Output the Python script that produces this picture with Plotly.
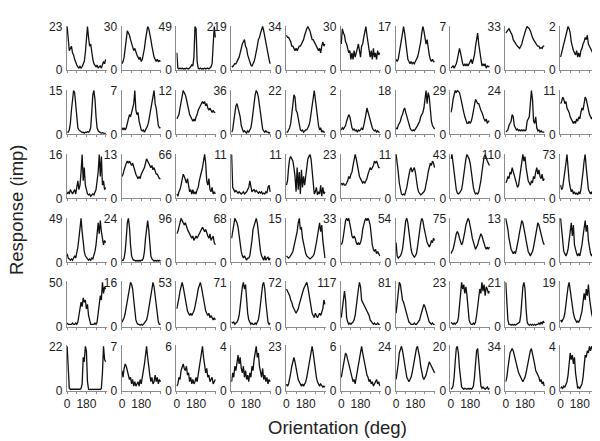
import plotly.graph_objects as go

# peak response (imp/s) shown as the top tick of every panel, row by row
peak_rows = [
    [23, 30, 49, 219, 34, 30, 17, 7, 33, 2],
    [15, 7, 12, 36, 22, 2, 18, 29, 24, 11],
    [16, 13, 66, 11, 11, 23, 11, 43, 110, 73],
    [49, 24, 96, 68, 15, 33, 54, 75, 13, 55],
    [50, 16, 53, 71, 72, 117, 81, 23, 21, 19],
    [22, 7, 6, 4, 23, 6, 24, 20, 34, 4],
]

# tuning curves, % of the panel's peak, sampled every 10 deg from 0 to 360
row1 = [
    [100, 70, 45, 50, 55, 40, 35, 25, 15, 12, 8, 5, 10, 5, 8, 15, 20, 40, 80, 100, 75, 55, 60, 40, 25, 15, 10, 8, 12, 5, 8, 10, 5, 12, 20, 15, 25],
    [15, 20, 30, 50, 75, 90, 85, 80, 70, 60, 55, 45, 50, 40, 35, 30, 25, 30, 20, 25, 35, 50, 70, 85, 100, 95, 85, 70, 55, 40, 30, 25, 20, 25, 20, 22, 20],
    [40, 5, 3, 5, 3, 5, 3, 4, 3, 5, 4, 3, 5, 8, 12, 10, 30, 100, 95, 20, 5, 3, 5, 3, 4, 3, 5, 3, 4, 5, 3, 5, 8, 15, 60, 100, 75],
    [10, 8, 12, 15, 15, 20, 25, 30, 40, 55, 60, 65, 70, 55, 50, 35, 25, 15, 12, 10, 15, 20, 30, 40, 55, 70, 75, 85, 95, 100, 90, 75, 65, 55, 40, 25, 15],
    [80, 75, 75, 70, 65, 55, 55, 50, 45, 50, 45, 50, 55, 55, 60, 65, 70, 80, 90, 95, 100, 95, 90, 80, 70, 70, 65, 60, 55, 50, 45, 50, 40, 55, 65, 55, 60],
    [60, 95, 85, 80, 65, 60, 50, 40, 45, 25, 40, 25, 45, 30, 40, 55, 60, 45, 30, 55, 60, 75, 90, 100, 80, 60, 45, 30, 45, 25, 50, 30, 40, 25, 45, 35, 40],
    [25, 20, 25, 40, 60, 80, 95, 100, 85, 60, 40, 25, 20, 15, 20, 15, 18, 15, 20, 25, 30, 40, 50, 65, 85, 100, 90, 70, 60, 70, 50, 35, 25, 20, 25, 20, 20],
    [5, 8, 10, 5, 10, 15, 25, 40, 50, 40, 25, 15, 10, 15, 10, 15, 10, 15, 20, 25, 15, 25, 35, 55, 70, 85, 60, 40, 20, 10, 15, 10, 15, 5, 10, 8, 10],
    [85, 88, 90, 95, 90, 85, 80, 70, 65, 60, 58, 55, 52, 50, 55, 60, 70, 80, 90, 95, 100, 98, 95, 90, 80, 75, 70, 65, 60, 58, 55, 55, 50, 52, 50, 55, 55],
    [30, 40, 50, 60, 70, 80, 90, 100, 95, 85, 65, 50, 45, 40, 35, 45, 30, 40, 30, 45, 50, 60, 65, 75, 70, 80, 60, 55, 50, 45, 40, 35, 40, 30, 35, 30, 25],
]
row2 = [
    [5, 5, 10, 25, 55, 85, 100, 95, 70, 35, 15, 10, 8, 5, 4, 5, 3, 5, 4, 6, 5, 8, 15, 50, 90, 100, 80, 40, 15, 8, 5, 4, 3, 4, 3, 2, 2],
    [15, 10, 15, 10, 15, 25, 35, 45, 40, 50, 60, 70, 100, 55, 45, 50, 30, 15, 10, 8, 10, 5, 10, 15, 20, 30, 45, 60, 65, 85, 100, 70, 60, 40, 20, 15, 15],
    [35, 40, 45, 60, 75, 90, 100, 95, 90, 80, 65, 55, 45, 40, 35, 30, 35, 30, 40, 45, 55, 60, 65, 70, 75, 70, 75, 65, 70, 60, 55, 60, 55, 50, 55, 50, 50],
    [5, 10, 30, 50, 65, 70, 60, 55, 40, 20, 10, 5, 8, 5, 3, 8, 5, 10, 15, 30, 55, 75, 90, 100, 95, 85, 65, 45, 25, 12, 8, 5, 8, 5, 5, 3, 5],
    [5, 5, 10, 15, 25, 45, 70, 90, 85, 55, 50, 35, 20, 10, 8, 10, 5, 8, 10, 10, 15, 20, 30, 45, 65, 85, 100, 80, 55, 35, 20, 10, 15, 5, 8, 5, 5],
    [10, 15, 12, 15, 20, 30, 40, 45, 40, 25, 15, 10, 12, 8, 10, 5, 10, 8, 10, 15, 10, 20, 30, 45, 60, 50, 45, 35, 25, 15, 10, 8, 10, 5, 8, 5, 5],
    [15, 12, 20, 25, 30, 40, 45, 55, 60, 50, 40, 30, 20, 15, 10, 8, 10, 8, 12, 15, 20, 25, 30, 40, 45, 50, 60, 80, 100, 70, 95, 85, 50, 30, 20, 15, 12],
    [50, 60, 80, 95, 100, 95, 100, 98, 95, 85, 70, 60, 50, 40, 30, 25, 25, 30, 25, 30, 40, 55, 75, 80, 75, 70, 70, 60, 55, 50, 40, 35, 30, 35, 25, 30, 30],
    [5, 8, 10, 20, 25, 30, 45, 40, 20, 15, 10, 12, 8, 10, 8, 10, 8, 10, 8, 10, 30, 35, 40, 70, 100, 80, 30, 25, 40, 15, 8, 10, 5, 8, 5, 5, 5],
    [70, 75, 85, 80, 70, 75, 60, 55, 50, 40, 35, 30, 25, 30, 25, 35, 30, 40, 35, 50, 60, 55, 75, 85, 80, 65, 55, 45, 40, 35, 40, 30, 35, 40, 35, 45, 60],
]
row3 = [
    [10, 15, 10, 20, 15, 10, 15, 20, 10, 25, 40, 20, 30, 60, 100, 40, 70, 30, 15, 10, 8, 10, 5, 8, 10, 8, 15, 20, 40, 60, 100, 50, 95, 30, 40, 20, 25],
    [50, 55, 65, 75, 80, 85, 80, 85, 80, 75, 80, 70, 65, 55, 50, 45, 50, 45, 55, 60, 65, 70, 80, 90, 85, 80, 75, 70, 75, 65, 70, 60, 55, 55, 50, 45, 45],
    [10, 5, 15, 20, 30, 45, 55, 50, 40, 35, 45, 25, 15, 20, 10, 20, 10, 15, 10, 20, 25, 40, 55, 60, 70, 85, 100, 80, 40, 30, 45, 20, 15, 25, 10, 15, 10],
    [100, 25, 20, 15, 18, 15, 12, 15, 12, 10, 12, 15, 10, 12, 15, 20, 25, 40, 30, 15, 18, 20, 15, 18, 15, 12, 15, 12, 15, 10, 12, 10, 15, 12, 25, 30, 15],
    [30, 40, 70, 90, 95, 90, 85, 70, 50, 15, 70, 20, 60, 10, 65, 25, 50, 30, 55, 70, 90, 95, 100, 90, 60, 30, 10, 15, 25, 8, 15, 10, 30, 5, 25, 10, 15],
    [35, 30, 35, 30, 30, 35, 40, 50, 45, 55, 60, 75, 90, 100, 90, 75, 60, 50, 45, 40, 35, 38, 35, 40, 45, 55, 65, 70, 65, 70, 75, 85, 80, 85, 75, 70, 70],
    [100, 85, 60, 35, 20, 10, 8, 10, 8, 15, 25, 40, 55, 65, 70, 60, 65, 70, 60, 40, 25, 15, 10, 8, 10, 12, 15, 20, 30, 45, 60, 70, 80, 75, 85, 80, 70],
    [90, 100, 80, 55, 35, 20, 12, 10, 12, 15, 20, 35, 55, 75, 90, 100, 95, 90, 80, 60, 40, 25, 15, 10, 12, 10, 15, 25, 40, 60, 80, 95, 100, 90, 85, 80, 75],
    [35, 40, 50, 45, 60, 55, 70, 60, 50, 40, 30, 25, 30, 45, 60, 80, 100, 85, 95, 70, 50, 40, 35, 30, 40, 35, 50, 45, 60, 70, 55, 65, 50, 45, 55, 40, 45],
    [30, 20, 25, 40, 55, 80, 100, 60, 40, 25, 15, 20, 10, 15, 10, 12, 8, 15, 10, 20, 35, 60, 85, 100, 70, 40, 20, 15, 10, 15, 8, 12, 10, 15, 10, 8, 10],
]
row4 = [
    [20, 10, 8, 5, 8, 5, 10, 15, 10, 20, 35, 55, 80, 100, 70, 45, 25, 15, 10, 8, 5, 8, 5, 10, 8, 15, 25, 40, 60, 90, 65, 95, 70, 55, 40, 50, 45],
    [5, 5, 10, 25, 55, 90, 100, 80, 40, 15, 8, 5, 5, 3, 5, 3, 5, 3, 5, 5, 10, 25, 55, 85, 95, 75, 40, 15, 8, 5, 3, 5, 3, 5, 3, 5, 3],
    [65, 70, 80, 90, 100, 95, 90, 85, 90, 80, 75, 70, 65, 60, 55, 60, 50, 55, 60, 55, 60, 65, 70, 75, 80, 75, 70, 75, 65, 60, 55, 65, 50, 55, 60, 45, 40],
    [55, 70, 90, 100, 95, 90, 80, 60, 40, 25, 15, 10, 15, 10, 5, 10, 10, 15, 30, 50, 75, 85, 95, 100, 90, 65, 40, 25, 15, 10, 5, 15, 5, 10, 12, 5, 10],
    [15, 12, 10, 12, 15, 20, 25, 35, 45, 55, 70, 90, 100, 75, 80, 55, 40, 30, 20, 15, 12, 10, 8, 10, 12, 15, 20, 30, 45, 60, 75, 90, 70, 85, 50, 25, 10],
    [40, 45, 60, 80, 95, 100, 95, 100, 90, 75, 60, 55, 60, 55, 45, 40, 45, 40, 45, 55, 75, 90, 95, 100, 95, 100, 95, 85, 60, 40, 30, 25, 30, 20, 25, 20, 15],
    [45, 15, 10, 12, 15, 20, 30, 50, 75, 95, 100, 90, 70, 45, 30, 20, 15, 12, 15, 20, 35, 55, 75, 90, 100, 95, 80, 65, 50, 45, 40, 35, 40, 50, 45, 55, 50],
    [20, 25, 30, 40, 55, 65, 70, 65, 55, 45, 40, 45, 55, 70, 85, 95, 100, 95, 85, 70, 55, 45, 35, 30, 35, 40, 50, 60, 65, 60, 50, 40, 35, 30, 35, 30, 35],
    [100, 90, 75, 55, 40, 30, 25, 20, 25, 20, 30, 40, 55, 70, 85, 95, 90, 80, 65, 50, 35, 25, 20, 15, 20, 25, 35, 50, 65, 80, 90, 85, 75, 60, 50, 45, 40],
    [100, 70, 45, 25, 20, 15, 20, 30, 50, 75, 90, 60, 85, 40, 25, 20, 15, 20, 15, 25, 40, 60, 80, 95, 70, 85, 50, 30, 20, 15, 20, 15, 25, 20, 30, 25, 20],
]
row5 = [
    [8, 5, 5, 5, 5, 8, 5, 5, 8, 5, 10, 25, 40, 55, 45, 65, 55, 60, 40, 50, 25, 10, 5, 5, 5, 5, 8, 5, 10, 30, 55, 70, 60, 100, 75, 90, 85],
    [10, 15, 20, 30, 45, 65, 80, 90, 100, 95, 85, 60, 35, 15, 8, 5, 5, 3, 5, 3, 5, 8, 10, 15, 25, 40, 60, 80, 95, 100, 90, 70, 45, 25, 10, 5, 5],
    [40, 50, 65, 80, 95, 100, 90, 75, 60, 45, 35, 30, 25, 30, 25, 30, 35, 45, 55, 70, 85, 95, 100, 90, 75, 60, 45, 35, 30, 25, 30, 20, 25, 20, 15, 20, 15],
    [10, 8, 10, 5, 8, 10, 15, 25, 45, 70, 90, 100, 85, 95, 60, 30, 15, 8, 5, 8, 5, 5, 8, 5, 10, 15, 30, 55, 80, 95, 100, 85, 55, 25, 10, 5, 8],
    [85, 80, 75, 70, 60, 55, 45, 40, 35, 30, 35, 40, 50, 60, 70, 80, 85, 90, 95, 100, 90, 75, 55, 40, 30, 25, 20, 30, 25, 20, 25, 30, 25, 35, 40, 60, 50],
    [20, 40, 70, 80, 60, 20, 10, 5, 8, 5, 8, 10, 15, 25, 45, 70, 85, 100, 90, 60, 55, 50, 45, 40, 35, 30, 25, 15, 10, 8, 5, 8, 5, 5, 8, 5, 5],
    [30, 55, 85, 100, 95, 75, 60, 55, 45, 40, 25, 15, 10, 8, 5, 5, 5, 8, 5, 5, 8, 10, 15, 25, 35, 45, 50, 45, 35, 25, 15, 10, 8, 5, 8, 5, 5],
    [10, 8, 5, 8, 5, 8, 10, 20, 50, 80, 100, 85, 95, 75, 90, 70, 40, 15, 8, 5, 5, 8, 5, 10, 25, 50, 70, 85, 75, 100, 80, 95, 70, 90, 85, 75, 80],
    [100, 60, 15, 5, 5, 3, 5, 3, 5, 3, 5, 5, 8, 10, 25, 60, 90, 100, 85, 40, 10, 5, 3, 5, 3, 5, 3, 5, 3, 5, 5, 8, 5, 10, 5, 12, 8],
    [15, 10, 15, 20, 30, 50, 75, 90, 100, 80, 60, 45, 30, 20, 15, 10, 12, 10, 15, 25, 35, 55, 75, 60, 85, 70, 95, 65, 45, 30, 20, 15, 20, 25, 15, 20, 25],
]
row6 = [
    [100, 30, 5, 3, 3, 2, 3, 2, 3, 2, 3, 2, 3, 5, 15, 75, 65, 100, 90, 20, 3, 2, 3, 2, 3, 2, 3, 2, 3, 2, 3, 2, 5, 40, 100, 70, 65],
    [45, 30, 50, 60, 55, 45, 35, 25, 30, 15, 25, 10, 20, 10, 15, 20, 10, 25, 15, 35, 45, 60, 80, 100, 75, 50, 35, 20, 30, 15, 20, 35, 20, 30, 15, 25, 20],
    [10, 15, 30, 25, 45, 55, 60, 50, 45, 55, 35, 40, 20, 30, 15, 25, 15, 20, 30, 20, 35, 50, 60, 80, 100, 75, 55, 40, 50, 30, 35, 20, 25, 30, 15, 20, 25],
    [20, 40, 30, 55, 45, 70, 80, 60, 75, 50, 40, 55, 30, 45, 25, 35, 20, 40, 30, 55, 45, 70, 90, 100, 75, 85, 55, 40, 30, 50, 25, 35, 20, 30, 15, 25, 20],
    [15, 10, 15, 25, 40, 55, 70, 75, 65, 50, 35, 25, 20, 15, 10, 15, 10, 15, 20, 30, 45, 60, 80, 95, 100, 85, 65, 45, 30, 20, 15, 10, 15, 10, 8, 10, 8],
    [30, 45, 60, 75, 85, 80, 70, 55, 45, 35, 30, 20, 25, 15, 30, 45, 60, 80, 90, 100, 85, 70, 60, 45, 35, 30, 20, 25, 15, 20, 10, 15, 20, 25, 15, 20, 10],
    [25, 40, 60, 85, 95, 100, 90, 75, 55, 40, 30, 25, 20, 25, 30, 40, 55, 70, 85, 95, 100, 90, 75, 55, 40, 30, 25, 30, 35, 45, 55, 65, 60, 55, 50, 45, 40],
    [3, 5, 10, 30, 65, 95, 100, 85, 50, 20, 8, 5, 3, 5, 3, 3, 5, 3, 5, 3, 5, 10, 30, 65, 90, 95, 70, 35, 10, 5, 8, 5, 3, 5, 8, 3, 5],
    [20, 30, 50, 70, 85, 90, 95, 90, 80, 65, 55, 50, 40, 35, 30, 25, 20, 25, 30, 40, 55, 70, 85, 90, 95, 85, 75, 60, 45, 40, 35, 30, 20, 25, 15, 20, 10],
    [5, 8, 5, 10, 8, 15, 20, 35, 60, 85, 70, 80, 60, 75, 40, 15, 5, 8, 5, 10, 15, 30, 55, 80, 75, 90, 85, 100, 90, 100, 95, 85, 100, 80, 60, 30, 5],
]
curve_rows = [row1, row2, row3, row4, row5, row6]

W, H = 600, 441
FONT = "Liberation Sans, Arial, Helvetica, sans-serif"
AXIS_GREY = "#8c8c8c"

fig = go.Figure()
layout = {}

for r, (curves, peaks) in enumerate(zip(curve_rows, peak_rows)):
    for c, (pct, peak) in enumerate(zip(curves, peaks)):
        i = r * 10 + c + 1
        xs = [360 * k / (len(pct) - 1) for k in range(len(pct))]
        ys = [p * peak / 100 for p in pct]
        fig.add_trace(
            go.Scatter(
                x=xs, y=ys, mode="lines",
                line=dict(color="#111111", width=1.3),
                xaxis=f"x{i}", yaxis=f"y{i}",
                showlegend=False, hoverinfo="skip",
            )
        )
        left = 56 + 55.1 * c
        top = 12 + 65.9 * r
        bottom = 58 + 66 * r
        bottom_row = r == len(curve_rows) - 1
        layout[f"xaxis{i}"] = dict(
            domain=[left / W, (left + 40) / W],
            anchor=f"y{i}",
            range=[-4, 368],
            tickvals=[0, 90, 180, 270, 360],
            ticktext=["0", "", "180", "", ""] if bottom_row else [""] * 5,
            ticks="outside", ticklen=2, tickcolor=AXIS_GREY,
            showline=True, linecolor=AXIS_GREY, linewidth=1,
            showgrid=False, zeroline=False,
            tickfont=dict(size=12, color="#222", family=FONT),
            fixedrange=True,
        )
        layout[f"yaxis{i}"] = dict(
            domain=[1 - bottom / H, 1 - top / H],
            anchor=f"x{i}",
            range=[0, peak * 1.02],
            tickvals=[0, peak],
            ticktext=["0", str(peak)],
            ticks="", ticklabelstandoff=1,
            showline=True, linecolor=AXIS_GREY, linewidth=1,
            showgrid=False, zeroline=False,
            tickfont=dict(size=12, color="#222", family=FONT),
            fixedrange=True,
        )

fig.update_layout(
    width=W, height=H,
    margin=dict(l=0, r=0, t=0, b=0),
    paper_bgcolor="white", plot_bgcolor="white",
    font=dict(family=FONT, color="#222"),
    annotations=[
        dict(text="Orientation (deg)", x=328 / W, y=1 - 426 / H,
             xref="paper", yref="paper", xanchor="center", yanchor="middle",
             showarrow=False, font=dict(size=18.5, color="#222")),
        dict(text="Response (imp)", x=5 / W, y=1 - 201 / H,
             xref="paper", yref="paper", xanchor="center", yanchor="middle",
             showarrow=False, textangle=-90, font=dict(size=18.5, color="#222")),
    ],
    **layout,
)

fig.write_html("out.html")
